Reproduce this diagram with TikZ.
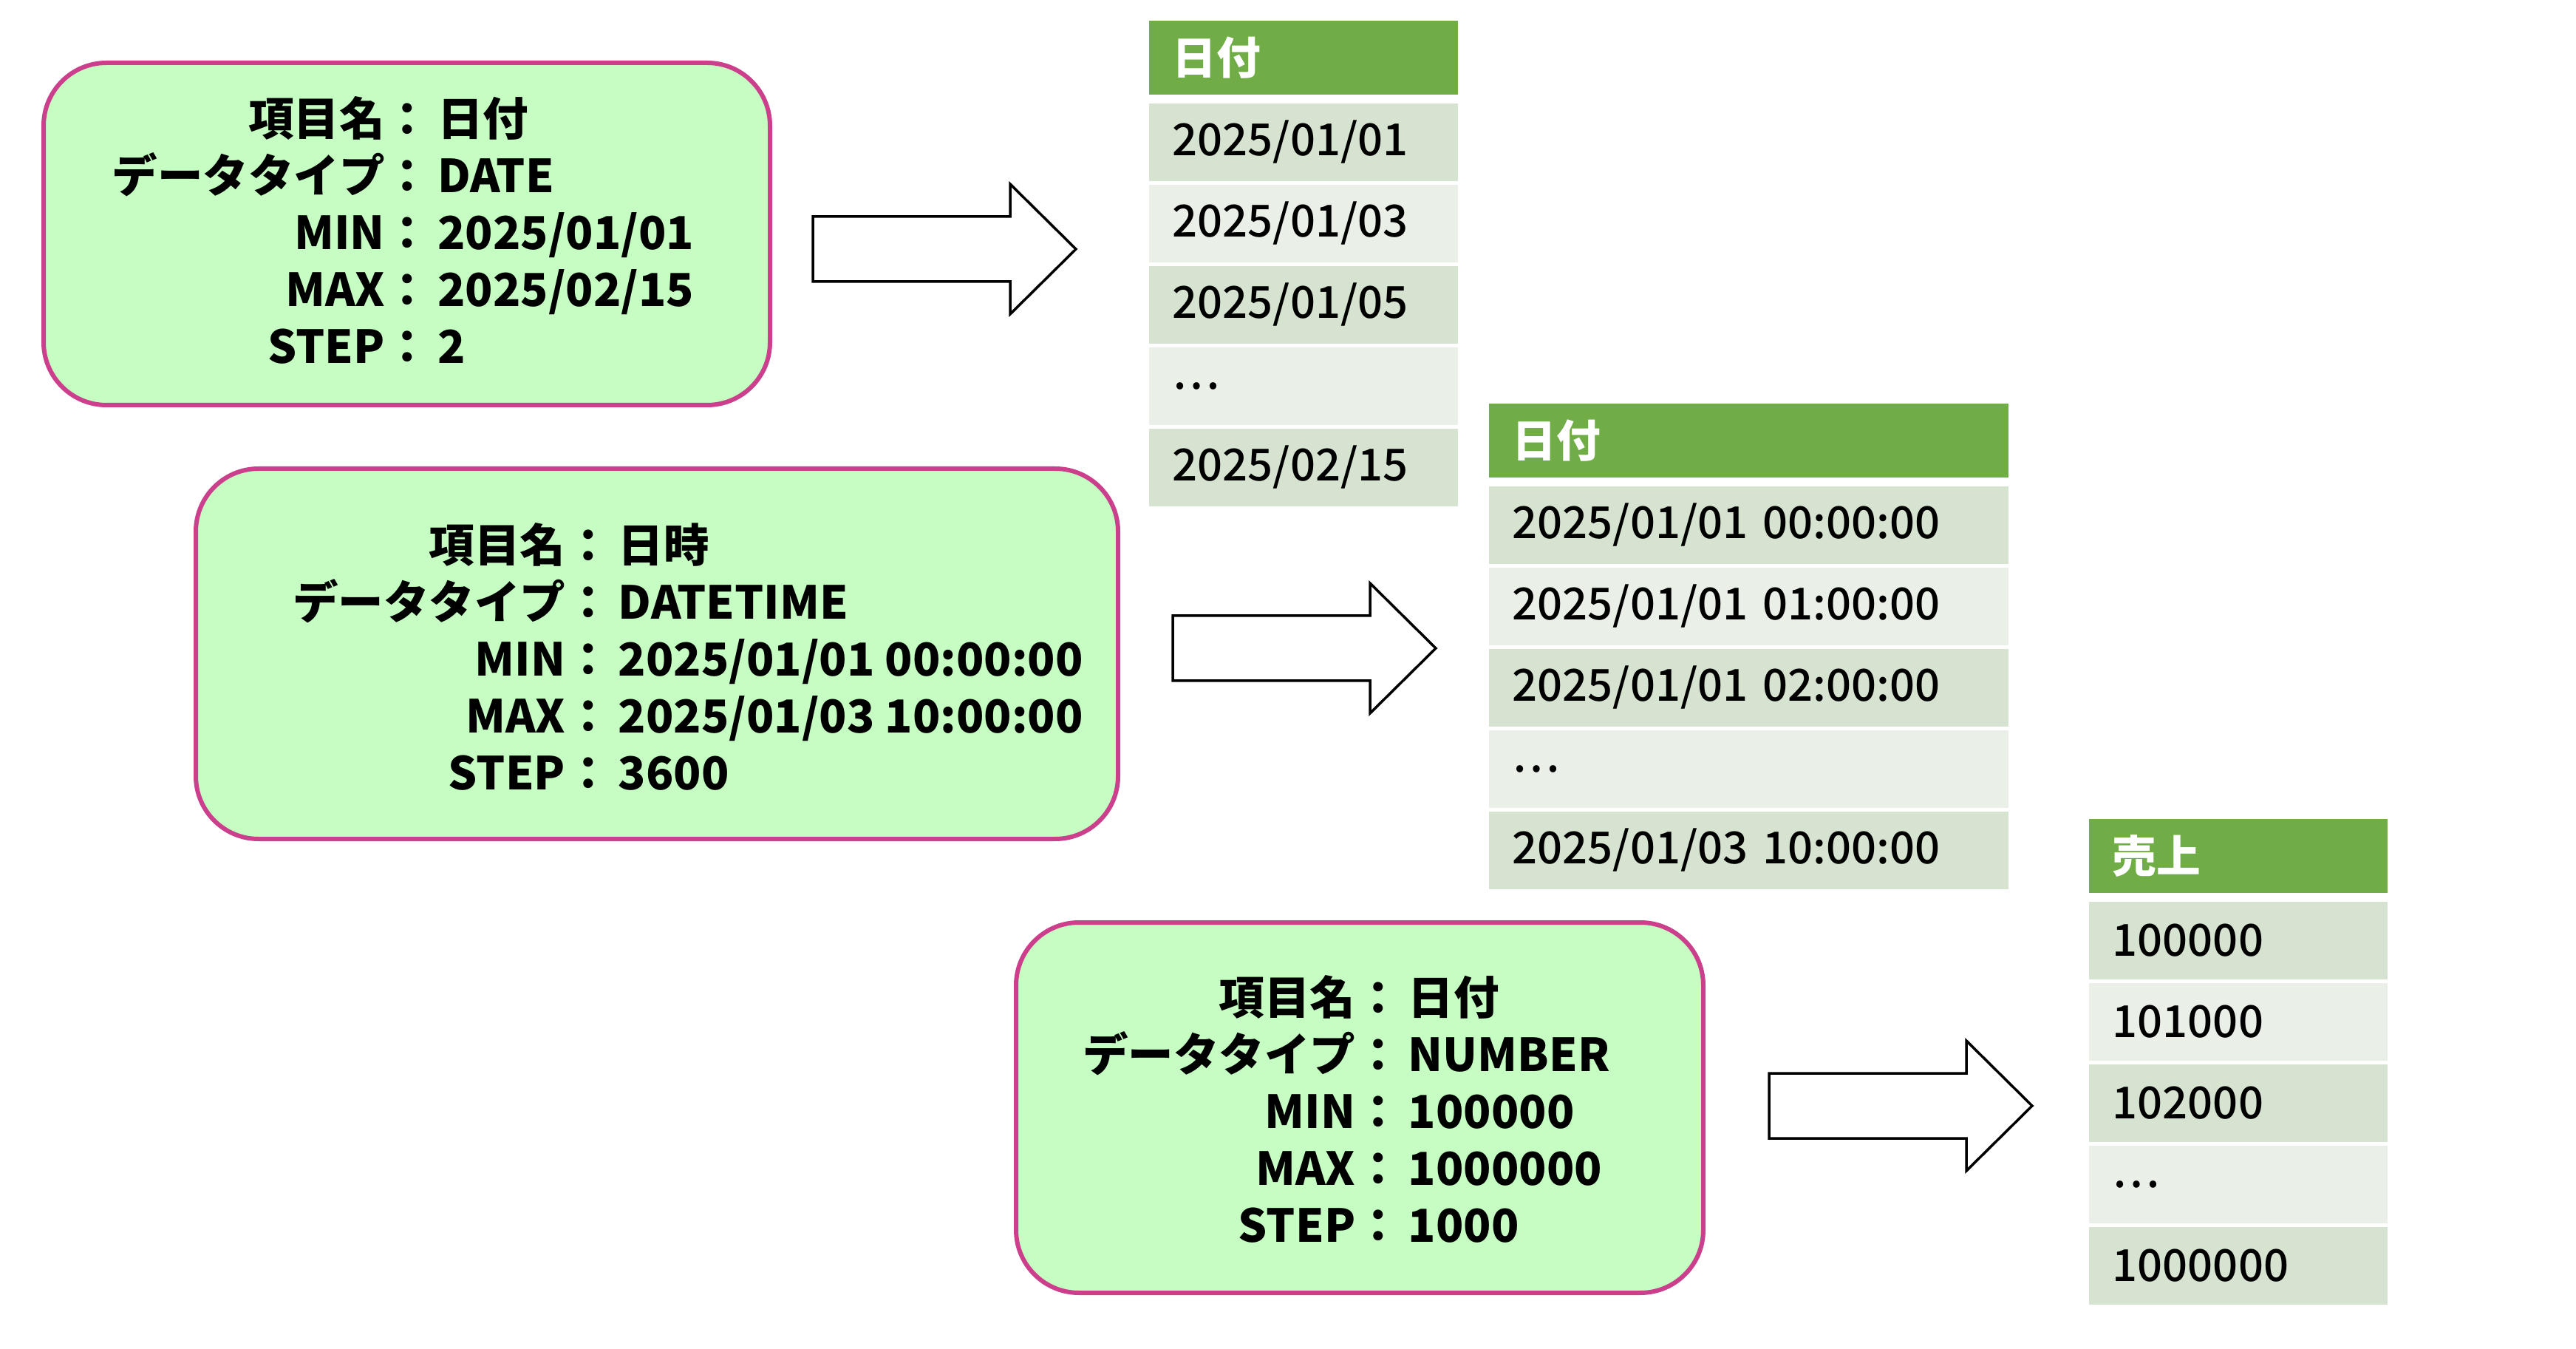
\documentclass[tikz,border=0pt]{standalone}
\usepackage{fontspec}
\setmainfont{Noto Sans CJK JP}
\newfontfamily\jpmed{Noto Sans CJK JP Medium}
\usetikzlibrary{positioning}

\definecolor{boxfill}{HTML}{C5FDC3}
\definecolor{boxline}{HTML}{CC3F8C}
\definecolor{headgreen}{HTML}{70AD47}
\definecolor{rowdark}{HTML}{D6E3D0}
\definecolor{rowlight}{HTML}{EAF0E8}

\begin{document}
\begin{tikzpicture}[
  specbox/.style={draw=boxline, line width=0.6mm, fill=boxfill, rounded corners=0.85cm},
  spectext/.style={font=\fontsize{17.5}{21.9}\selectfont\bfseries},
  headcell/.style={fill=headgreen, text=white, anchor=north west, minimum height=1.0cm,
    inner xsep=0.32cm, inner ysep=0pt, align=left, font=\fontsize{17}{20}\selectfont\bfseries},
  datacell/.style={anchor=north west, minimum height=1.05cm, inner xsep=0.32cm,
    inner ysep=0pt, align=left, font=\fontsize{17}{20}\selectfont\jpmed},
  bigarrow/.style={draw, fill=white, line width=0.35mm}
]
\useasboundingbox (0,0) rectangle (34.86,-18.25);

% Spec boxes
\node[specbox, minimum width=9.83cm, minimum height=4.63cm] (spec1) at (5.505,-3.165) {};
\node[spectext] (spec1t) at ([shift={(-0.05,-0.06)}]spec1.center) {%
  \begin{tabular}{@{}r@{：\,}l@{}}
  項目名 & 日付\\ データタイプ & DATE\\ MIN & 2025/01/01\\ MAX & 2025/02/15\\ STEP & 2
  \end{tabular}};
\node[specbox, minimum width=12.48cm, minimum height=5.01cm] (spec2) at (8.89,-8.845) {};
\node[spectext] (spec2t) at ([shift={(0.42,-0.15)}]spec2.center) {%
  \begin{tabular}{@{}r@{：\,}l@{}}
  項目名 & 日時\\ データタイプ & DATETIME\\ MIN & 2025/01/01 00:00:00\\
  MAX & 2025/01/03 10:00:00\\ STEP & 3600
  \end{tabular}};
\node[specbox, minimum width=9.30cm, minimum height=5.01cm] (spec3) at (18.40,-14.985) {};
\node[spectext] (spec3t) at ([shift={(-0.18,-0.13)}]spec3.center) {%
  \begin{tabular}{@{}r@{：\,}l@{}}
  項目名 & 日付\\ データタイプ & NUMBER\\ MIN & 100000\\ MAX & 1000000\\ STEP & 1000
  \end{tabular}};

% Arrows
\foreach \x/\y in {11.00/-3.37, 15.87/-8.77, 23.94/-14.96}
  \draw[bigarrow] (\x,\y+0.44) -- ++(2.67,0) -- ++(0,0.44) -- ++(0.89,-0.88)
    -- ++(-0.89,-0.88) -- ++(0,0.44) -- ++(-2.67,0) -- cycle;

% Table 1
\node[headcell, minimum width=4.18cm, text width=3.54cm] (tab1) at (15.54,-0.27) {日付};
\foreach \v [count=\i] in {2025/01/01, 2025/01/03, 2025/01/05, …, 2025/02/15} {
  \ifodd\i\def\rc{rowdark}\else\def\rc{rowlight}\fi
  \node[datacell, fill=\rc, minimum width=4.18cm, text width=3.54cm] (tab1r\i)
    at (15.54,{-1.39-(\i-1)*1.10}) {\v};
}

% Table 2
\node[headcell, minimum width=7.03cm, text width=6.39cm] (tab2) at (20.14,-5.45) {日付};
\foreach \v [count=\i] in {2025/01/01 00:00:00, 2025/01/01 01:00:00, 2025/01/01 02:00:00, …,
    2025/01/03 10:00:00} {
  \ifodd\i\def\rc{rowdark}\else\def\rc{rowlight}\fi
  \node[datacell, fill=\rc, minimum width=7.03cm, text width=6.39cm] (tab2r\i)
    at (20.14,{-6.57-(\i-1)*1.10}) {\v};
}

% Table 3
\node[headcell, minimum width=4.04cm, text width=3.40cm] (tab3) at (28.26,-11.07) {売上};
\foreach \v [count=\i] in {100000, 101000, 102000, …, 1000000} {
  \ifodd\i\def\rc{rowdark}\else\def\rc{rowlight}\fi
  \node[datacell, fill=\rc, minimum width=4.04cm, text width=3.40cm] (tab3r\i)
    at (28.26,{-12.19-(\i-1)*1.10}) {\v};
}
\end{tikzpicture}
\end{document}
